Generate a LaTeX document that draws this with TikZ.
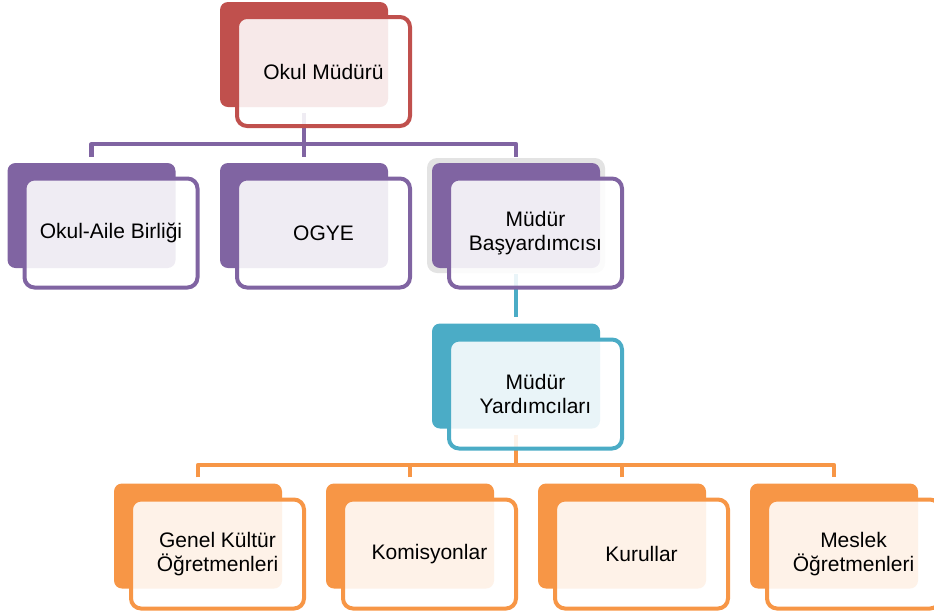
\documentclass[tikz,border=0pt]{standalone}
\usepackage{fontspec}
\setmainfont{Liberation Sans}
\definecolor{cRed}{HTML}{C0504D}
\definecolor{cPur}{HTML}{8064A2}
\definecolor{cTeal}{HTML}{4BACC6}
\definecolor{cOra}{HTML}{F79646}
\begin{document}
\begin{tikzpicture}[x=1pt,y=-1pt,
  backbox/.style={rectangle,rounded corners=8pt,minimum width=168pt,minimum height=105pt,inner sep=0pt,fill=#1,draw=none},
  frontbox/.style={rectangle,rounded corners=10pt,minimum width=173pt,minimum height=109pt,inner sep=0pt,
    draw=#1,line width=4pt,fill=white,fill opacity=0.88,text opacity=1,align=center,
    font=\fontsize{21}{23.5}\selectfont,text=black},
  conn/.style={draw=#1,line width=4.2pt,line join=round,line cap=butt}]
\useasboundingbox (0,0) rectangle (934,614);

% connectors (behind the boxes)
\coordinate (bus1) at (304,144);
\coordinate (bus3) at (516,465);

% back boxes
\node[rectangle,rounded corners=10pt,minimum width=178pt,minimum height=115pt,fill=black!11] (halo) at (516,215.5) {};
\node[backbox=cRed] (bM) at (304,54.5) {};
\node[backbox=cPur] (bA) at (91.5,215.5) {};
\node[backbox=cPur] (bO) at (304,215.5) {};
\node[backbox=cPur] (bB) at (516,215.5) {};
\node[backbox=cTeal] (bY) at (516,376) {};
\node[backbox=cOra] (bG) at (198,536) {};
\node[backbox=cOra] (bK) at (410,536) {};
\node[backbox=cOra] (bR) at (622,536) {};
\node[backbox=cOra] (bS) at (834,536) {};

\begin{scope}[on background layer/.try]
\end{scope}

% connectors drawn before front boxes
\draw[conn=cPur] ([yshift=-6pt]bM.south) -- (bus1);
\draw[conn=cPur] ([yshift=6pt]bA.north) |- (bus1) -| ([yshift=6pt]bB.north);
\draw[conn=cPur] (bus1) -- ([yshift=6pt]bO.north);
\draw[conn=cTeal] ([yshift=-6pt]bB.south) -- ([yshift=6pt]bY.north);
\draw[conn=cOra] ([yshift=-6pt]bY.south) -- (bus3);
\draw[conn=cOra] ([yshift=6pt]bG.north) |- (bus3) -| ([yshift=6pt]bS.north);
\draw[conn=cOra] ([yshift=6pt]bK.north) |- (bus3);
\draw[conn=cOra] ([yshift=6pt]bR.north) |- (bus3);

% front boxes
\node[frontbox=cRed] (fM) at (323.5,71.5) {Okul Müdürü};
\node[frontbox=cPur] (fA) at (111,233) {Okul-Aile Birliği};
\node[frontbox=cPur] (fO) at (323.5,233) {OGYE};
\node[frontbox=cPur] (fB) at (535.5,233) {Müdür\\Başyardımcısı};
\node[frontbox=cTeal] (fY) at (535.5,394) {Müdür\\Yardımcıları};
\node[frontbox=cOra] (fG) at (217.5,554) {Genel Kültür\\Öğretmenleri};
\node[frontbox=cOra] (fK) at (429.5,554) {Komisyonlar};
\node[frontbox=cOra] (fR) at (641.5,554) {Kurullar};
\node[frontbox=cOra] (fS) at (853.5,554) {Meslek\\Öğretmenleri};
\end{tikzpicture}
\end{document}
